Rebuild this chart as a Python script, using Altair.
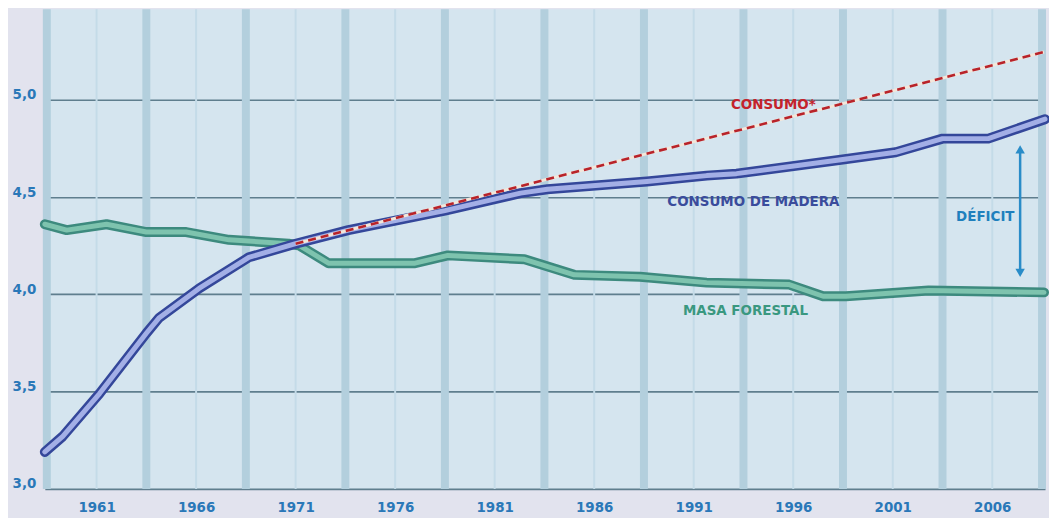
import altair as alt
import pandas as pd

# --- data ---
madera_years = [1958.4, 1959.3, 1961.15, 1963.5, 1964.15, 1966.15, 1968.65, 1971.0, 1973.65,
                1978.5, 1982.3, 1983.65, 1988.65, 1991.65, 1993.15, 1998.3, 2001.15, 2003.5,
                2005.8, 2008.65]
madera_vals = [3.19, 3.27, 3.49, 3.80, 3.88, 4.03, 4.19, 4.26, 4.33,
               4.43, 4.52, 4.54, 4.58, 4.61, 4.62, 4.69, 4.73, 4.80,
               4.80, 4.90]

forestal_years = [1958.4, 1959.5, 1961.5, 1963.5, 1965.5, 1967.65, 1970.65, 1971.2, 1972.65,
                  1977.0, 1978.65, 1982.5, 1985.0, 1988.3, 1991.65, 1995.8, 1997.5, 1998.65,
                  2002.8, 2008.6]
forestal_vals = [4.36, 4.33, 4.36, 4.32, 4.32, 4.28, 4.26, 4.25, 4.16,
                 4.16, 4.20, 4.18, 4.10, 4.09, 4.06, 4.05, 3.99, 3.99,
                 4.02, 4.01]

consumo_years = [1971.0, 2008.6]
consumo_vals = [4.26, 5.245]

band_years = [1958.5, 1963.5, 1968.5, 1973.5, 1978.5, 1983.5, 1988.5, 1993.5, 1998.5, 2003.5, 2008.5]
label_years = [1961, 1966, 1971, 1976, 1981, 1986, 1991, 1996, 2001, 2006]
y_ticks = [3.0, 3.5, 4.0, 4.5, 5.0]

labels_text = ["CONSUMO*", "CONSUMO DE MADERA", "DÉFICIT", "MASA FORESTAL"]
labels_x = [1995.0, 1994.0, 2005.65, 1993.6]
labels_y = [4.98, 4.48, 4.40, 3.92]
labels_color = ["#c4232b", "#3a4c9c", "#1f80bd", "#3a9880"]

arrow_x = [2007.4]
arrow_top = [4.745]
arrow_bottom = [4.11]

FONT = "Liberation Sans Narrow, DejaVu Sans Condensed, Arial Narrow, sans-serif"

x_scale = alt.Scale(domain=[1958.4, 2008.65], nice=False, zero=False)
y_scale = alt.Scale(domain=[3.0, 5.465], nice=False, zero=False)

madera = pd.DataFrame({"year": madera_years, "v": madera_vals})
forestal = pd.DataFrame({"year": forestal_years, "v": forestal_vals})
consumo = pd.DataFrame({"year": consumo_years, "v": consumo_vals})
bands = pd.DataFrame({"year": band_years})
mids = pd.DataFrame({"year": label_years})
texts = pd.DataFrame({"t": labels_text, "year": labels_x, "v": labels_y, "c": labels_color})
arrow = pd.DataFrame({"year": arrow_x, "top": arrow_top, "bottom": arrow_bottom})


def X():
    return alt.X("year:Q", scale=x_scale, title=None)


def Y(field="v"):
    return alt.Y(f"{field}:Q", scale=y_scale, title=None)


base_axes = alt.Chart(pd.DataFrame({"year": [1961.0], "v": [3.0]})).mark_point(opacity=0).encode(
    x=alt.X("year:Q", scale=x_scale, title=None,
            axis=alt.Axis(values=label_years, format="d", grid=False, domain=False, ticks=False,
                          labelFont=FONT, labelFontSize=15, labelFontWeight="bold",
                          labelColor="#2a78b8", labelPadding=11, title=None)),
    y=alt.Y("v:Q", scale=y_scale, title=None,
            axis=alt.Axis(values=y_ticks, grid=True, gridColor="#5f7e8e", gridWidth=1.6,
                          domain=False, ticks=False, title=None,
                          labelFont=FONT, labelFontSize=15, labelFontWeight="bold",
                          labelColor="#2a78b8", labelPadding=9, labelOffset=-6,
                          labelExpr="replace(format(datum.value, '.1f'), '.', ',')")),
)

mid_rules = alt.Chart(mids).mark_rule(color="#c4dbe8", strokeWidth=2).encode(x=X())
band_rules = alt.Chart(bands).mark_rule(color="#b3cfdd", strokeWidth=8).encode(x=X())


def outlined(df, outer, inner):
    o = alt.Chart(df).mark_line(color=outer, strokeWidth=10, strokeCap="round", strokeJoin="round").encode(x=X(), y=Y())
    i = alt.Chart(df).mark_line(color=inner, strokeWidth=5, strokeCap="round", strokeJoin="round").encode(x=X(), y=Y())
    return [o, i]


forest_lines = outlined(forestal, "#3d8a7e", "#7ec3ae")
madera_lines = outlined(madera, "#34479a", "#a3afe6")

consumo_under = alt.Chart(consumo).mark_line(color="#f3e6da", strokeWidth=3).encode(x=X(), y=Y())
consumo_line = alt.Chart(consumo).mark_line(color="#b8232a", strokeWidth=2.6, strokeDash=[8, 5]).encode(x=X(), y=Y())

text_layer = alt.Chart(texts).mark_text(font=FONT, fontSize=15, fontWeight="bold").encode(
    x=X(), y=Y(), text="t:N", color=alt.Color("c:N", scale=None))

arrow_rule = alt.Chart(arrow).mark_rule(color="#2a8cc8", strokeWidth=2.5).encode(
    x=X(), y=Y("top"), y2="bottom:Q")
arrow_up = alt.Chart(arrow).mark_point(shape="triangle-up", filled=True, size=90, color="#2a8cc8", opacity=1).encode(
    x=X(), y=Y("top"))
arrow_down = alt.Chart(arrow).mark_point(shape="triangle-down", filled=True, size=90, color="#2a8cc8", opacity=1).encode(
    x=X(), y=Y("bottom"))

chart = alt.layer(
    base_axes, mid_rules, band_rules,
    *forest_lines, *madera_lines, consumo_under, consumo_line,
    text_layer, arrow_rule, arrow_up, arrow_down,
).properties(
    width=1005, height=482, background="#e2e3ee",
    autosize=alt.AutoSizeParams(type="none"),
    padding={"left": 37, "top": 0, "right": 4, "bottom": 28},
).configure_view(fill="#d5e5ef", stroke=None)

chart.save("out.html", embed_options={"renderer": "svg", "actions": False})
